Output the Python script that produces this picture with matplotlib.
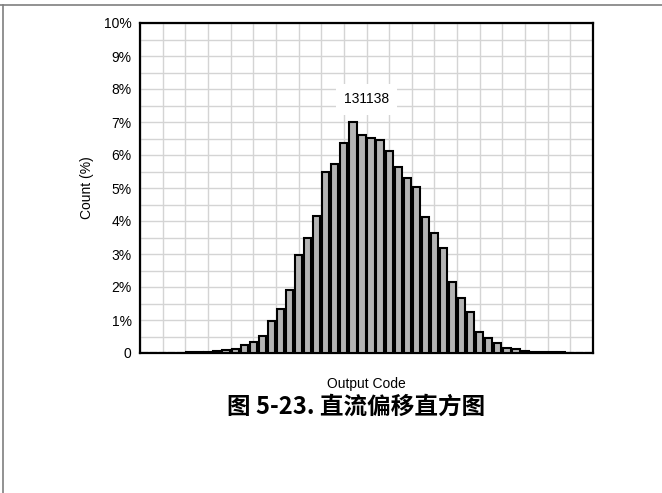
import matplotlib
matplotlib.use("Agg")
import matplotlib.pyplot as plt
from matplotlib.ticker import MultipleLocator, FixedLocator
from matplotlib.lines import Line2D

# Histogram data: percentage of samples per output-code bin (50 bins)
bin_index = list(range(50))
count_pct = [
    0, 0, 0, 0.01, 0.01, 0.02, 0.02, 0.04, 0.06, 0.08,
    0.13, 0.23, 0.32, 0.52, 0.96, 1.34, 1.91, 2.98, 3.48, 4.16,
    5.49, 5.73, 6.35, 7.00, 6.61, 6.52, 6.45, 6.13, 5.63, 5.29,
    5.02, 4.13, 3.65, 3.19, 2.16, 1.68, 1.23, 0.65, 0.44, 0.30,
    0.16, 0.11, 0.07, 0.04, 0.03, 0.02, 0.02, 0.01, 0.01, 0,
]
ytick_vals = [0, 1, 2, 3, 4, 5, 6, 7, 8, 9, 10]
ytick_labels = ["0", "1%", "2%", "3%", "4%", "5%", "6%", "7%", "8%", "9%", "10%"]
peak_label = "131138"
peak_pos = (25.0, 7.69)

plt.rcParams["font.family"] = ["Liberation Sans", "DejaVu Sans"]

fig = plt.figure(figsize=(6.62, 4.93), dpi=100)
ax = fig.add_axes([140 / 662, 1 - 353 / 493, 453 / 662, 330 / 493])

ax.bar([i + 0.5 for i in bin_index], count_pct, width=0.8,
       color="#b4b4b4", edgecolor="black", linewidth=1.5, zorder=3)

ax.set_xlim(0, 50)
ax.set_ylim(0, 10)

# grid: 20 columns, rows every 0.5%
ax.xaxis.set_major_locator(MultipleLocator(2.5))
ax.yaxis.set_major_locator(FixedLocator(ytick_vals))
ax.yaxis.set_minor_locator(MultipleLocator(0.5))
ax.grid(True, which="both", color="#d4d4d4", linewidth=1.0, zorder=0)
ax.set_axisbelow(True)

ax.set_xticklabels([])
ax.set_yticklabels(ytick_labels, fontsize=10)
ax.tick_params(axis="both", which="both", length=0, pad=6)

for s in ax.spines.values():
    s.set_linewidth(1.6)
    s.set_color("black")

ax.set_ylabel("Count (%)", fontsize=10, labelpad=7)
ax.set_xlabel("Output Code", fontsize=10, labelpad=11)

ax.text(peak_pos[0], peak_pos[1], peak_label, ha="center", va="center",
        fontsize=10, zorder=4,
        bbox=dict(facecolor="white", edgecolor="none", pad=6))

fig.text(356 / 662, 1 - 407 / 493, "图 5-23. 直流偏移直方图",
         ha="center", va="center", fontsize=17, fontweight="bold",
         family=["Noto Sans CJK SC", "DejaVu Sans"])

# page frame lines (top and left)
fig.add_artist(Line2D([0, 1], [1 - 5 / 493, 1 - 5 / 493],
                      transform=fig.transFigure, color="#7f7f7f", linewidth=1.2))
fig.add_artist(Line2D([3 / 662, 3 / 662], [0, 1 - 5 / 493],
                      transform=fig.transFigure, color="#7f7f7f", linewidth=1.2))

fig.savefig("out.png", dpi=100)
